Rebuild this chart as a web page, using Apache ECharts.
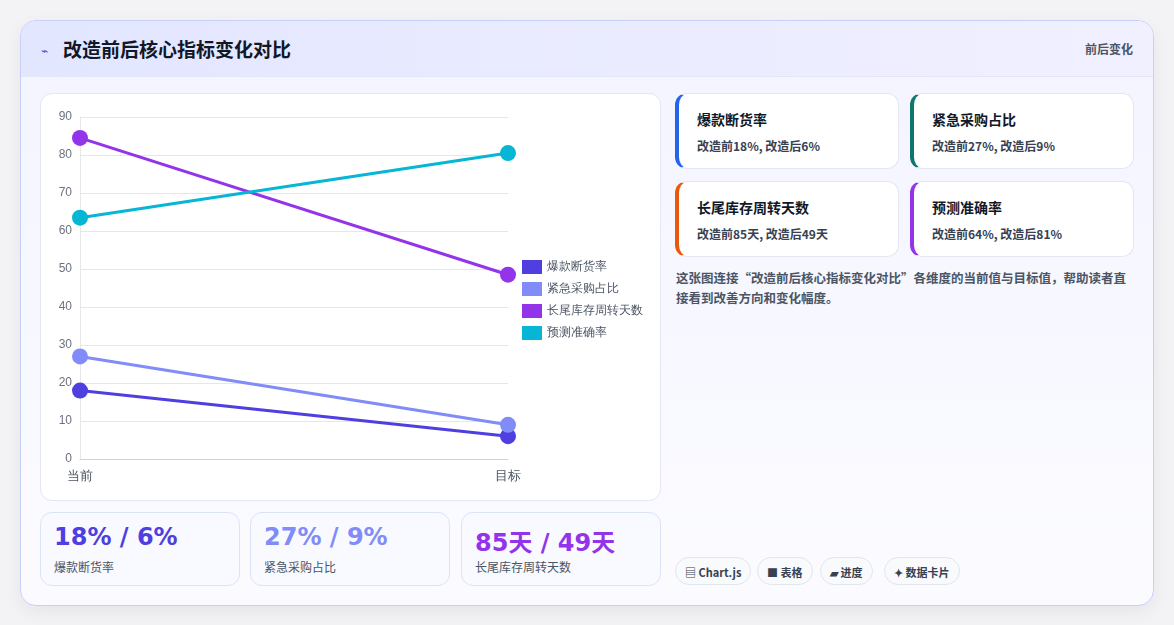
<!DOCTYPE html>
<html><head><meta charset="utf-8">
<script src="https://cdn.jsdelivr.net/npm/echarts@6/dist/echarts.min.js"></script>
<style>
body{margin:0;width:1174px;height:625px;background:#f3f3f6;font-family:"Noto Sans CJK SC","Noto Sans",sans-serif;overflow:hidden}
.card{position:absolute;left:20px;top:20px;width:1132px;height:584px;border:1px solid #c7d0fb;border-radius:16px;background:linear-gradient(180deg,#f3f4ff,#fbfbff);box-shadow:0 6px 18px rgba(0,0,0,.06);overflow:hidden}
.hdr{height:55px;background:linear-gradient(90deg,#e2e6ff,#f1f0ff);border-bottom:1px solid #e3e6f5;position:relative}
.hdr h1{margin:0;position:absolute;left:42px;top:14px;font-size:19px;font-weight:700;color:#111827}
.hdr .ic{position:absolute;left:20px;top:20px;font-size:12px;color:#4f46e5}
.hdr .r{position:absolute;right:20px;top:19px;font-size:12px;font-weight:700;color:#4b5563}
.box{position:absolute;background:#fff;border:1px solid #e3e6f3;border-radius:12px}
#chart{position:absolute;left:40px;top:93px;width:620px;height:407px}
.stat{position:absolute;top:512px;width:198px;height:72px;border:1px solid #dbe3f7;border-radius:12px;background:#f8faff}
.stat b{position:absolute;left:13px;top:10px;font-size:24px;font-family:"DejaVu Sans","Noto Sans CJK SC";font-weight:700}
.stat span{position:absolute;left:13px;top:45px;font-size:12px;color:#4b5563}
.m{position:absolute;width:224px;height:76px;background:#fff;border-radius:12px;border:1px solid #e3e6f3;box-sizing:border-box}
.m .t{position:absolute;left:18px;top:15px;font-size:14px;font-weight:700;color:#111827}
.m .d{position:absolute;left:18px;top:43px;font-size:12px;font-weight:700;color:#374151}
.desc{position:absolute;left:676px;top:268px;width:460px;font-size:12.5px;line-height:20px;color:#4b5563;font-weight:600}
.chip{position:absolute;top:557px;height:28px;border:1px solid #e2e6ef;border-radius:14px;background:#f8fafc;font-size:11px;font-weight:700;color:#374151;line-height:28px;padding:0 9px;box-sizing:border-box}
</style></head><body>
<div class="card">
<div class="hdr"><span class="ic">⌁</span><h1>改造前后核心指标变化对比</h1><span class="r">前后变化</span></div>
</div>
<div class="box" style="left:40px;top:93px;width:619px;height:406px"></div>
<div id="chart"></div>
<div class="stat" style="left:40px"><b style="color:#4f3fe0">18% / 6%</b><span>爆款断货率</span></div>
<div class="stat" style="left:250px"><b style="color:#818cf8">27% / 9%</b><span>紧急采购占比</span></div>
<div class="stat" style="left:461px"><b style="color:#9333ea">85天 / 49天</b><span>长尾库存周转天数</span></div>
<div class="m" style="left:675px;top:93px;border-left:4px solid #2563eb"><div class="t">爆款断货率</div><div class="d">改造前18%, 改造后6%</div></div>
<div class="m" style="left:910px;top:93px;border-left:4px solid #0f766e"><div class="t">紧急采购占比</div><div class="d">改造前27%, 改造后9%</div></div>
<div class="m" style="left:675px;top:181px;border-left:4px solid #ea580c"><div class="t">长尾库存周转天数</div><div class="d">改造前85天, 改造后49天</div></div>
<div class="m" style="left:910px;top:181px;border-left:4px solid #9333ea"><div class="t">预测准确率</div><div class="d">改造前64%, 改造后81%</div></div>
<div class="desc">这张图连接“改造前后核心指标变化对比”各维度的当前值与目标值，帮助读者直接看到改善方向和变化幅度。</div>
<div class="chip" style="left:675px">▤ Chart.js</div>
<div class="chip" style="left:757px">■ 表格</div>
<div class="chip" style="left:820px">▰ 进度</div>
<div class="chip" style="left:884px">✦ 数据卡片</div>
<script>
const categories=['当前','目标'];
const seriesNames=['爆款断货率','紧急采购占比','长尾库存周转天数','预测准确率'];
const s1=[18,6], s2=[27,9], s3=[84.5,48.5], s4=[63.5,80.5];
const colors=['#4f3fe0','#818cf8','#9333ea','#06b6d4'];
const vals=[s1,s2,s3,s4];
const c=echarts.init(document.getElementById('chart'));
c.setOption({
 animation:false,
 grid:{left:40,right:152,top:24,bottom:41},
 legend:{orient:'vertical',left:477,top:162,icon:'rect',itemWidth:20,itemHeight:14,itemGap:8,textStyle:{fontSize:12,color:'#4b5563'},data:seriesNames},
 xAxis:{type:'category',data:categories,boundaryGap:false,axisLine:{lineStyle:{color:'#cfd4dc'}},axisTick:{show:false},axisLabel:{color:'#4b5563',fontSize:13,margin:11}},
 yAxis:{type:'value',min:0,max:90,interval:10,axisLine:{show:true,lineStyle:{color:'#e5e7eb'}},splitLine:{lineStyle:{color:'#e5e7eb'}},axisLabel:{color:'#6b7280',fontSize:12}},
 series:vals.map((v,i)=>({name:seriesNames[i],type:'line',data:v,symbol:'circle',symbolSize:16,lineStyle:{width:3,color:colors[i]},itemStyle:{color:colors[i]}}))
});
</script>
</body></html>
